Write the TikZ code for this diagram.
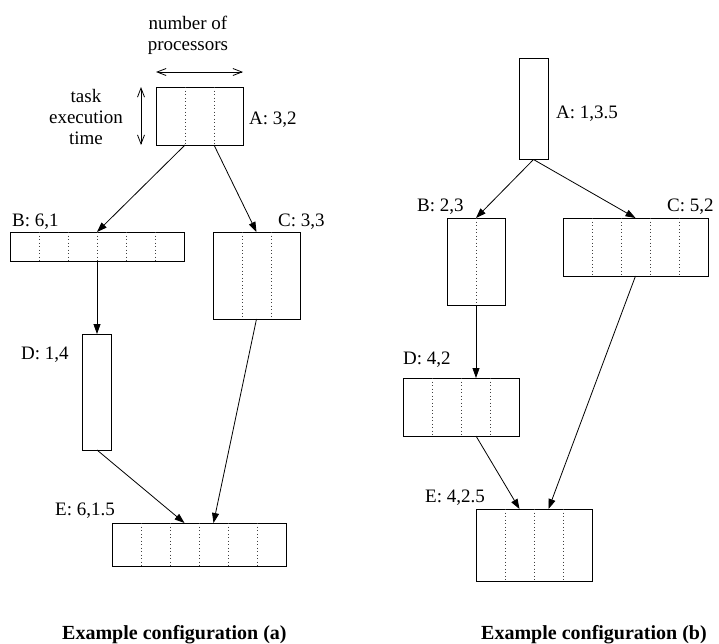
\documentclass[tikz,border=0pt]{standalone}
\usepackage{fontspec}
\setmainfont{Liberation Serif}
\usetikzlibrary{arrows.meta,calc}
\tikzset{
  task/.style={draw, line width=0.9pt, inner sep=0pt, outer sep=0pt, anchor=north west},
  dotline/.style={line width=0.8pt, dash pattern=on 0.9pt off 2.6pt, black!75},
  conn/.style={line width=0.8pt, -{Triangle[length=10pt,width=7pt]}},
  dimarrow/.style={line width=0.8pt, {Straight Barb[length=9pt,width=7pt]}-{Straight Barb[length=9pt,width=7pt]}},
  lbl/.style={inner sep=0pt, anchor=base west, font=\fontsize{19}{21}\selectfont},
  ctext/.style={inner sep=0pt, anchor=base, font=\fontsize{19}{21}\selectfont},
  captxt/.style={inner sep=0pt, anchor=base west, font=\fontsize{20}{22}\selectfont\bfseries},
}
\newcommand\tbox[5]{%
  \node[task,minimum width=#4*29pt,minimum height=#5*29pt] (#1) at (#2,#3) {};
  \pgfmathtruncatemacro\ncut{#4-1}%
  \ifnum\ncut>0
    \foreach \k in {1,...,\ncut}{\draw[dotline] ($(#1.north west)+(\k*29,0)$) -- ($(#1.south west)+(\k*29,0)$);}
  \fi}
\begin{document}
\begin{tikzpicture}[x=1pt,y=-1pt]
\useasboundingbox (0,0) rectangle (719,643);
% configuration (a)
\tbox{aA}{156}{87}{3}{2}
\tbox{aB}{10}{232}{6}{1}
\tbox{aC}{213}{232}{3}{3}
\tbox{aD}{82.5}{334}{1}{4}
\tbox{aE}{112}{523}{6}{1.5}
\draw[conn] ($(aA.south west)+(29,0)$) -- (aB.north);
\draw[conn] ($(aA.south west)+(58,0)$) -- (aC.north);
\draw[conn] (aB.south) -- (aD.north);
\draw[conn] (aD.south) -- ($(aE.north west)+(72.5,0)$);
\draw[conn] (aC.south) -- ($(aE.north west)+(101.5,0)$);
\draw[dimarrow] ($(aA.north west)+(0,-15)$) -- ($(aA.north east)+(0,-15)$);
\draw[dimarrow] ($(aA.north west)+(-15,0)$) -- ($(aA.south west)+(-15,0)$);
\node[ctext] (num1) at (188,29) {number of};
\node[ctext] (num2) at (188,50) {processors};
\node[ctext] (tim1) at (86,102) {task};
\node[ctext] (tim2) at (86,123) {execution};
\node[ctext] (tim3) at (86,144) {time};
\node[lbl] (laA) at (249,124) {A: 3,2};
\node[lbl] (laB) at (12,226) {B: 6,1};
\node[lbl] (laC) at (278,226) {C: 3,3};
\node[lbl] (laD) at (21,359) {D: 1,4};
\node[lbl] (laE) at (55,515) {E: 6,1.5};
% configuration (b)
\tbox{bA}{519}{58}{1}{3.5}
\tbox{bB}{447}{218}{2}{3}
\tbox{bC}{563}{218}{5}{2}
\tbox{bD}{403.5}{378}{4}{2}
\tbox{bE}{476}{509}{4}{2.5}
\draw[conn] (bA.south) -- (bB.north);
\draw[conn] (bA.south) -- (bC.north);
\draw[conn] (bB.south) -- ($(bD.north west)+(72.5,0)$);
\draw[conn] ($(bD.south west)+(72.5,0)$) -- ($(bE.north west)+(43.5,0)$);
\draw[conn] (bC.south) -- ($(bE.north west)+(72.5,0)$);
\node[lbl] (lbA) at (556,118) {A: 1,3.5};
\node[lbl] (lbB) at (417,211) {B: 2,3};
\node[lbl] (lbC) at (667,211) {C: 5,2};
\node[lbl] (lbD) at (403,364) {D: 4,2};
\node[lbl] (lbE) at (425,502) {E: 4,2.5};
% captions
\node[captxt] (capA) at (62,639) {Example configuration (a)};
\node[captxt] (capB) at (481,639) {Example configuration (b)};
\end{tikzpicture}
\end{document}
